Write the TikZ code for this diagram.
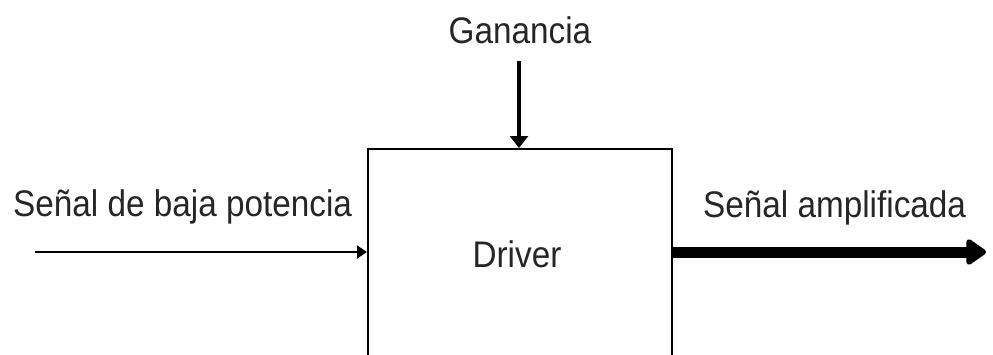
\documentclass[tikz,border=0pt]{standalone}
\usepackage{fontspec}
\setmainfont{Liberation Sans}
\usetikzlibrary{arrows.meta}
\begin{document}
\begin{tikzpicture}[x=1pt,y=-1pt,
  lbl/.style={font=\fontsize{37}{42}\selectfont, xscale=0.9, inner sep=0pt, text=black!85},
  blockbox/.style={draw, line width=1.8pt, minimum width=304pt, minimum height=260pt, inner sep=0pt, anchor=north west}
]
\useasboundingbox[fill=white] (0,0) rectangle (993,354);
\begin{scope}
\clip (0,0) rectangle (993,354);
\node[blockbox] (box) at (367,148) {};
\end{scope}
\node[lbl, anchor=base] (drv) at (517,267) {Driver};
\node[lbl, anchor=base] (gan) at (520,43) {Ganancia};
\node[lbl, anchor=base west] (inlbl) at (13,216) {Señal de baja potencia};
\node[lbl, anchor=base west] (outlbl) at (703,217) {Señal amplificada};
\coordinate (gtop) at (519,61);
\coordinate (gbot) at (519,148);
\coordinate (inL) at (35,252);
\coordinate (inR) at (367,252);
\coordinate (outL) at (671,252);
\coordinate (outR) at (986,252);
\draw[line width=4pt, -{Triangle[length=12pt,width=18pt]}] (gtop) -- (gbot);
\draw[line width=2pt, -{Triangle[length=10pt,width=13pt]}] (inL) -- (inR);
\draw[line width=11pt, -{Triangle[length=22pt,width=29pt,round]}] (outL) -- (outR);
\end{tikzpicture}
\end{document}
